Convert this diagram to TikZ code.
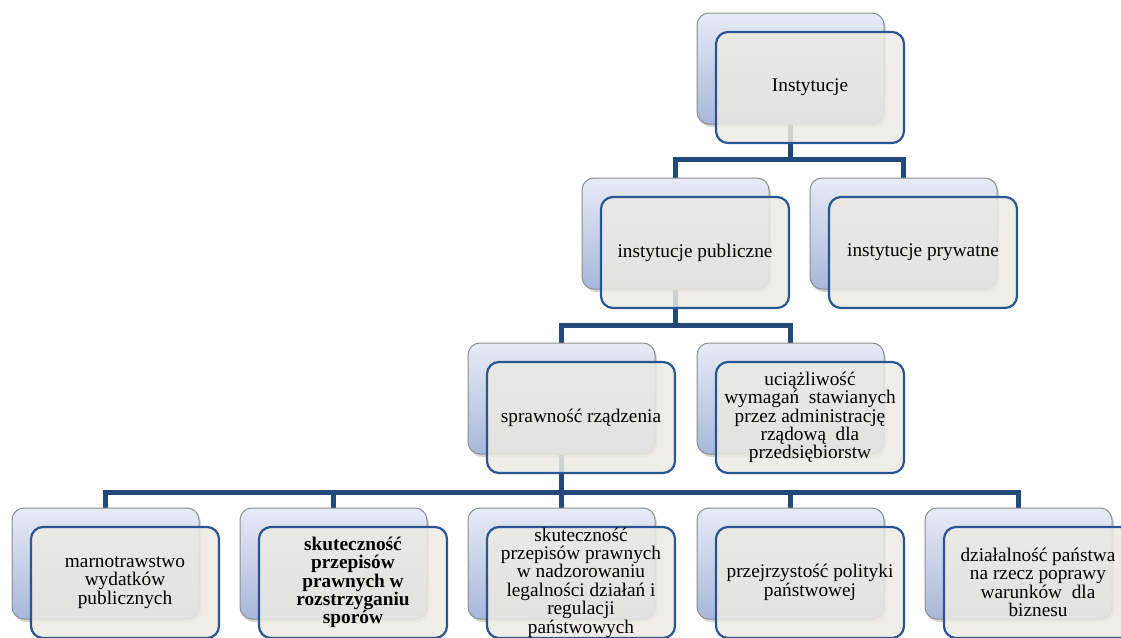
\documentclass[tikz,border=0pt]{standalone}
\usepackage{fontspec}
\setmainfont{Liberation Serif}
\usetikzlibrary{shadows,backgrounds}
\definecolor{conncol}{HTML}{23497C}
\definecolor{frontline}{HTML}{2B5592}
\definecolor{frontfill}{HTML}{ECEAE3}
\definecolor{backtop}{HTML}{E7EBF6}
\definecolor{backbot}{HTML}{A8B7DA}
\definecolor{backline}{HTML}{8E8E8E}
\tikzset{
  backbox/.style={draw=backline, line width=1pt, rounded corners=12pt,
    top color=backtop, bottom color=backbot,
    minimum width=187pt, minimum height=111pt, inner sep=0pt,
    drop shadow={opacity=0.35, shadow xshift=2pt, shadow yshift=-3pt}},
  frontbox/.style={draw=frontline, line width=2.2pt, rounded corners=12pt,
    fill=frontfill, fill opacity=0.85, text opacity=1,
    minimum width=188pt, minimum height=111pt, inner sep=0pt, align=center,
    font=\fontsize{19.3}{18.4}\selectfont},
  boldtext/.style={font=\fontsize{19.3}{18.4}\selectfont\bfseries},
  connector/.style={draw=conncol, line width=4.5pt},
}
\begin{document}
\begin{tikzpicture}[x=1pt,y=-1pt]
\useasboundingbox (0,0) rectangle (1121,637);
\clip (0,0) rectangle (1121,637);
% back boxes
\node[backbox] (broot) at (790.5,68.5) {};
\node[backbox] (bpub)  at (675.5,233.5) {};
\node[backbox] (bpry)  at (903.5,233.5) {};
\node[backbox] (bspr)  at (561.5,398.5) {};
\node[backbox] (buci)  at (790.5,398.5) {};
\node[backbox] (bm1)   at (105.5,563.5) {};
\node[backbox] (bm2)   at (333.5,563.5) {};
\node[backbox] (bm3)   at (561.5,563.5) {};
\node[backbox] (bm4)   at (790.5,563.5) {};
\node[backbox] (bm5)   at (1018.5,563.5) {};
% front boxes
\node[frontbox] (froot) at (810,87.5) {Instytucje};
\node[frontbox] (fpub)  at (695,252.5) {instytucje publiczne};
\node[frontbox] (fpry)  at (923,252.5) {instytucje prywatne};
\node[frontbox] (fspr)  at (581,417.5) {sprawność rządzenia};
\node[frontbox] (fuci)  at (810,417.5) {uciążliwość\\wymagań~ stawianych\\przez administrację\\rządową~ dla\\przedsiębiorstw};
\node[frontbox] (fm1)   at (125,582.5) {marnotrawstwo\\wydatków\\publicznych};
\node[frontbox,boldtext] (fm2) at (353,582.5) {skuteczność\\przepisów\\prawnych w\\rozstrzyganiu\\sporów};
\node[frontbox] (fm3)   at (581,582.5) {skuteczność\\przepisów prawnych\\w nadzorowaniu\\legalności działań i\\regulacji\\państwowych};
\node[frontbox] (fm4)   at (810,582.5) {przejrzystość polityki\\państwowej};
\node[frontbox] (fm5)   at (1038,582.5) {działalność państwa\\na rzecz poprawy\\warunków~ dla\\biznesu};
% connectors
\begin{pgfonlayer}{background}
\draw[connector] (broot.south) -- ++(0,35) -| (bpub.north);
\draw[connector] (broot.south) -- ++(0,35) -| (bpry.north);
\draw[connector] (bpub.south) -- ++(0,36) -| (bspr.north);
\draw[connector] (bpub.south) -- ++(0,36) -| (buci.north);
\draw[connector] (bspr.south) -- ++(0,38) -| (bm1.north);
\draw[connector] (bspr.south) -- ++(0,38) -| (bm2.north);
\draw[connector] (bspr.south) -- ++(0,38) -| (bm3.north);
\draw[connector] (bspr.south) -- ++(0,38) -| (bm4.north);
\draw[connector] (bspr.south) -- ++(0,38) -| (bm5.north);
\end{pgfonlayer}
\end{tikzpicture}
\end{document}
